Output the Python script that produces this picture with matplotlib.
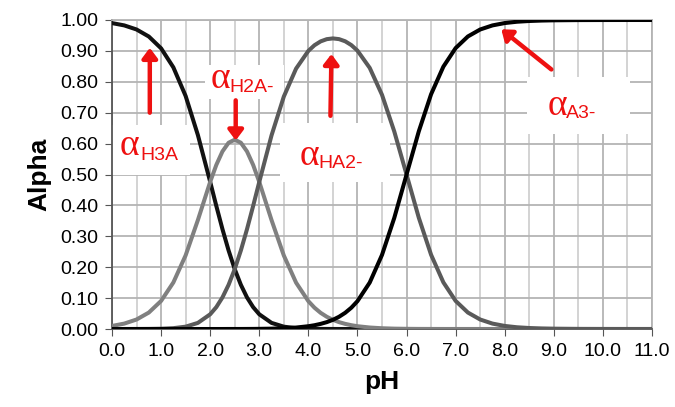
import matplotlib
matplotlib.use("Agg")
import matplotlib.pyplot as plt
from matplotlib.ticker import MultipleLocator
from matplotlib.patches import Rectangle

plt.rcParams['font.family'] = ['Liberation Sans', 'DejaVu Sans']

pH = [0.0, 0.25, 0.5, 0.75, 1.0, 1.25, 1.5, 1.75, 2.0, 2.125, 2.25, 2.375,
      2.5, 2.625, 2.75, 2.875, 3.0, 3.25, 3.5, 3.75, 4.0, 4.125, 4.25, 4.375,
      4.5, 4.625, 4.75, 4.875, 5.0, 5.25, 5.5, 5.75, 6.0, 6.25, 6.5, 6.75,
      7.0, 7.25, 7.5, 7.75, 8.0, 8.25, 8.5, 8.75, 9.0, 9.5, 10.0, 10.5, 11.0]

alpha_H3A = [0.990, 0.9825, 0.9693, 0.9465, 0.9083, 0.8467, 0.7540, 0.6274,
             0.4762, 0.3982, 0.3232, 0.2542, 0.1937, 0.1430, 0.1022, 0.0708,
             0.0476, 0.0198, 0.0075, 0.0027, 0.0009, 0.0005, 0.0003, 0.0002,
             0.0001, 0.0, 0.0, 0.0, 0.0, 0.0, 0.0, 0.0, 0.0, 0.0, 0.0, 0.0,
             0.0, 0.0, 0.0, 0.0, 0.0, 0.0, 0.0, 0.0, 0.0, 0.0, 0.0, 0.0, 0.0]

alpha_H2A = [0.0099, 0.0175, 0.0307, 0.0532, 0.0908, 0.1506, 0.2384, 0.3528,
             0.4762, 0.5310, 0.5747, 0.6028, 0.6126, 0.6028, 0.5747, 0.5310,
             0.4760, 0.3524, 0.2379, 0.1499, 0.0900, 0.0689, 0.0523, 0.0396,
             0.0297, 0.0222, 0.0166, 0.0123, 0.0090, 0.0048, 0.0024, 0.0011,
             0.0005, 0.0002, 0.0001, 0.0, 0.0, 0.0, 0.0, 0.0, 0.0, 0.0, 0.0,
             0.0, 0.0, 0.0, 0.0, 0.0, 0.0]

alpha_HA2 = [0.0, 0.0, 0.0001, 0.0003, 0.0009, 0.0027, 0.0075, 0.0198,
             0.0476, 0.0708, 0.1022, 0.1430, 0.1937, 0.2542, 0.3230, 0.3981,
             0.4760, 0.6267, 0.7522, 0.8427, 0.9001, 0.9184, 0.9308, 0.9380,
             0.9404, 0.9381, 0.9311, 0.9188, 0.9009, 0.8450, 0.7579, 0.6393,
             0.4998, 0.3599, 0.2402, 0.1510, 0.0909, 0.0532, 0.0307, 0.0175,
             0.0099, 0.0056, 0.0032, 0.0018, 0.0010, 0.0003, 0.0001, 0.0, 0.0]

alpha_A3 = [0.0, 0.0, 0.0, 0.0, 0.0, 0.0, 0.0, 0.0, 0.0, 0.0, 0.0, 0.0001,
            0.0001, 0.0001, 0.0002, 0.0003, 0.0005, 0.0011, 0.0024, 0.0047,
            0.0090, 0.0122, 0.0166, 0.0222, 0.0297, 0.0396, 0.0524, 0.0689,
            0.0901, 0.1503, 0.2397, 0.3595, 0.4998, 0.6399, 0.7597, 0.8490,
            0.9091, 0.9468, 0.9693, 0.9825, 0.9901, 0.9944, 0.9968, 0.9982,
            0.9990, 0.9997, 0.9999, 1.0, 1.0]

x_ticks = [0, 1, 2, 3, 4, 5, 6, 7, 8, 9, 10, 11]
y_ticks = [0.0, 0.1, 0.2, 0.3, 0.4, 0.5, 0.6, 0.7, 0.8, 0.9, 1.0]

fig = plt.figure(figsize=(6.75, 4.07), dpi=100)
ax = fig.add_axes([112/675, 1 - 329/407, 540/675, 309/407])

ax.set_xlim(0, 11)
ax.set_ylim(0, 1.0)
ax.set_xticks(x_ticks)
ax.set_xticklabels([f"{v:.1f}" for v in x_ticks])
ax.set_yticks(y_ticks)
ax.set_yticklabels([f"{v:.2f}" for v in y_ticks])
ax.xaxis.set_minor_locator(MultipleLocator(0.5))

ax.grid(True, which='major', color='#b4b4b4', linewidth=1.3, zorder=0)
ax.grid(True, which='minor', axis='x', color='#c8c8c8', linewidth=1.1, zorder=0)
ax.set_axisbelow(True)

for s in ['top', 'right']:
    ax.spines[s].set_color('#b4b4b4')
    ax.spines[s].set_linewidth(1.3)
for s in ['left', 'bottom']:
    ax.spines[s].set_color('#555555')
    ax.spines[s].set_linewidth(1.3)

ax.tick_params(axis='both', which='major', direction='out', length=5,
               color='#555555', labelsize=14, pad=5)
ax.tick_params(axis='x', which='minor', length=0)

# white label backgrounds
for (x0, x1, y0, y1) in [(0.0, 1.58, 0.50, 0.66), (1.9, 3.5, 0.745, 0.855),
                         (3.43, 5.66, 0.476, 0.667), (8.45, 10.55, 0.631, 0.816)]:
    ax.add_patch(Rectangle((x0, y0), x1 - x0, y1 - y0, facecolor='white',
                           edgecolor='none', zorder=1))

lw = 2.9
line_kw = dict(lw=lw, solid_joinstyle='round', solid_capstyle='round')
ax.plot(pH, alpha_H3A, color='#111111', zorder=3, **line_kw)
ax.plot(pH, alpha_H2A, color='#808080', zorder=3, **line_kw)
ax.plot(pH, alpha_HA2, color='#5a5a5a', zorder=3, **line_kw)
ax.plot(pH, alpha_A3, color='#000000', zorder=4, **line_kw)

ax.set_xlabel('pH', fontsize=19, fontweight='bold', labelpad=7)
ax.set_ylabel('Alpha', fontsize=19, fontweight='bold', labelpad=6)

red = '#ee1111'
arrow_kw = dict(arrowstyle='-|>,head_length=0.6,head_width=0.45', color=red,
                lw=3.2, shrinkA=0, shrinkB=0)
ax.annotate('', xy=(0.77, 0.91), xytext=(0.77, 0.70), arrowprops=arrow_kw, zorder=5)
ax.annotate('', xy=(2.52, 0.61), xytext=(2.52, 0.74), arrowprops=arrow_kw, zorder=5)
ax.annotate('', xy=(4.47, 0.89), xytext=(4.45, 0.69), arrowprops=arrow_kw, zorder=5)
ax.annotate('', xy=(7.93, 0.97), xytext=(8.95, 0.84), arrowprops=arrow_kw, zorder=5)

labels = [("H3A", 0.16, 0.563, 0.57, 0.547),
          ("H2A-", 2.0, 0.78, 2.40, 0.767),
          ("HA2-", 3.83, 0.531, 4.20, 0.521),
          ("A3-", 8.88, 0.693, 9.25, 0.683)]
for sub, ax_, ay_, sx, sy in labels:
    ax.text(ax_, ay_, "\u03b1", color=red, fontsize=27,
            family=['Liberation Serif', 'DejaVu Serif'],
            ha='left', va='baseline', zorder=6)
    ax.text(sx, sy, sub, color=red, fontsize=14, ha='left', va='baseline',
            zorder=6)

fig.savefig('out.png', dpi=100)
